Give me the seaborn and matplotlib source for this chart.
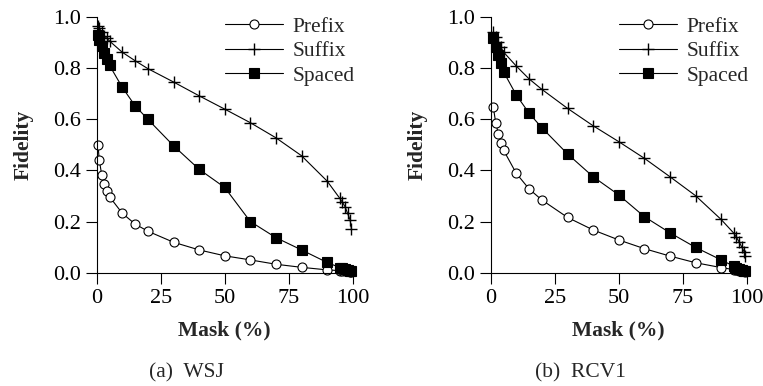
import matplotlib
matplotlib.use("Agg")
import matplotlib.pyplot as plt
import seaborn as sns
import pandas as pd

# Mask percentages and fidelity per scheme, WSJ corpus
mask_wsj = [0.5, 1, 2, 3, 4, 5, 10, 15, 20, 30, 40, 50, 60, 70, 80, 90,
            95, 96, 97, 98, 99, 99.5]
prefix_wsj = [0.50, 0.44, 0.38, 0.345, 0.32, 0.297, 0.232, 0.19, 0.162, 0.119,
              0.089, 0.066, 0.05, 0.033, 0.021, 0.011, 0.008, 0.007, 0.006,
              0.005, 0.004, 0.003]
suffix_wsj = [0.965, 0.955, 0.94, 0.925, 0.915, 0.905, 0.861, 0.828, 0.797,
              0.745, 0.691, 0.639, 0.586, 0.527, 0.457, 0.358, 0.29, 0.275,
              0.258, 0.232, 0.206, 0.17]
spaced_wsj = [0.93, 0.91, 0.885, 0.86, 0.835, 0.81, 0.724, 0.652, 0.599,
              0.496, 0.404, 0.333, 0.2, 0.137, 0.089, 0.04, 0.02, 0.018,
              0.015, 0.012, 0.008, 0.005]

# Mask percentages and fidelity per scheme, RCV1 corpus
mask_rcv = [1, 2, 3, 4, 5, 10, 15, 20, 30, 40, 50, 60, 70, 80, 90,
            95, 96, 97, 98, 99, 99.5]
prefix_rcv = [0.648, 0.583, 0.542, 0.508, 0.479, 0.388, 0.327, 0.284, 0.216,
              0.167, 0.128, 0.094, 0.065, 0.039, 0.02, 0.012, 0.01, 0.008,
              0.006, 0.005, 0.004]
suffix_rcv = [0.94, 0.92, 0.9, 0.88, 0.862, 0.807, 0.757, 0.716, 0.642, 0.574,
              0.512, 0.447, 0.375, 0.301, 0.208, 0.154, 0.138, 0.121, 0.102,
              0.082, 0.065]
spaced_rcv = [0.915, 0.88, 0.85, 0.82, 0.785, 0.694, 0.623, 0.566, 0.464,
              0.375, 0.304, 0.219, 0.156, 0.099, 0.05, 0.025, 0.02, 0.016,
              0.012, 0.008, 0.005]

series_names = ["Prefix", "Suffix", "Spaced"]
x_ticks = [0, 25, 50, 75, 100]
y_ticks = [0.0, 0.2, 0.4, 0.6, 0.8, 1.0]
captions = ["(a)  WSJ", "(b)  RCV1"]

sns.set_style("ticks")
plt.rcParams["font.family"] = ["Liberation Serif", "DejaVu Serif"]
plt.rcParams["font.size"] = 15.5
plt.rcParams["xtick.labelsize"] = 16
plt.rcParams["ytick.labelsize"] = 16
plt.rcParams["axes.linewidth"] = 0.8
plt.rcParams["xtick.major.width"] = 0.8
plt.rcParams["ytick.major.width"] = 0.8
plt.rcParams["xtick.major.size"] = 8
plt.rcParams["ytick.major.size"] = 8
plt.rcParams["xtick.major.pad"] = 3.5
plt.rcParams["ytick.major.pad"] = 3.5
plt.rcParams["xtick.color"] = "black"
plt.rcParams["ytick.color"] = "black"
plt.rcParams["axes.edgecolor"] = "black"

styles = {
    "Prefix": dict(marker="o", markersize=6.5, markerfacecolor="white",
                   markeredgecolor="black", markeredgewidth=0.8),
    "Suffix": dict(marker="+", markersize=8, markeredgecolor="black",
                   markeredgewidth=1.0),
    "Spaced": dict(marker="s", markersize=7, markerfacecolor="black",
                   markeredgecolor="black", markeredgewidth=0.8),
}

fig = plt.figure(figsize=(7.63, 3.86), dpi=100)
ax_w, ax_h = 256 / 763, 256 / 386
bottom = 113.3 / 386
axes = [fig.add_axes([96.7 / 763, bottom, ax_w, ax_h]),
        fig.add_axes([490.7 / 763, bottom, ax_w, ax_h])]

panels = [
    (mask_wsj, [prefix_wsj, suffix_wsj, spaced_wsj]),
    (mask_rcv, [prefix_rcv, suffix_rcv, spaced_rcv]),
]

for ax, (mask, values), cap, cx in zip(axes, panels, captions, [186, 580]):
    for name, vals in zip(series_names, values):
        df = pd.DataFrame({"mask": mask, "fidelity": vals})
        sns.lineplot(data=df, x="mask", y="fidelity", ax=ax, color="black",
                     linewidth=0.8, label=name, clip_on=False,
                     **styles[name])
    ax.set_xlim(0, 100)
    ax.set_ylim(0, 1.0)
    ax.set_xticks(x_ticks)
    ax.set_xticklabels([str(t) for t in x_ticks])
    ax.set_yticks(y_ticks)
    ax.set_yticklabels([f"{t:.1f}" for t in y_ticks])
    ax.set_xlabel("Mask (%)", fontweight="bold", labelpad=9)
    ax.set_ylabel("Fidelity", fontweight="bold", labelpad=14)
    sns.despine(ax=ax)
    ax.legend(loc="upper left", bbox_to_anchor=(0.5, 1.0), frameon=False,
              handlelength=2.7, handletextpad=0.45, labelspacing=0.2,
              borderpad=0, borderaxespad=0)
    fig.text(cx / 763, 1 - 373 / 386, cap, ha="center", va="center")

fig.savefig("out.png", dpi=100)
